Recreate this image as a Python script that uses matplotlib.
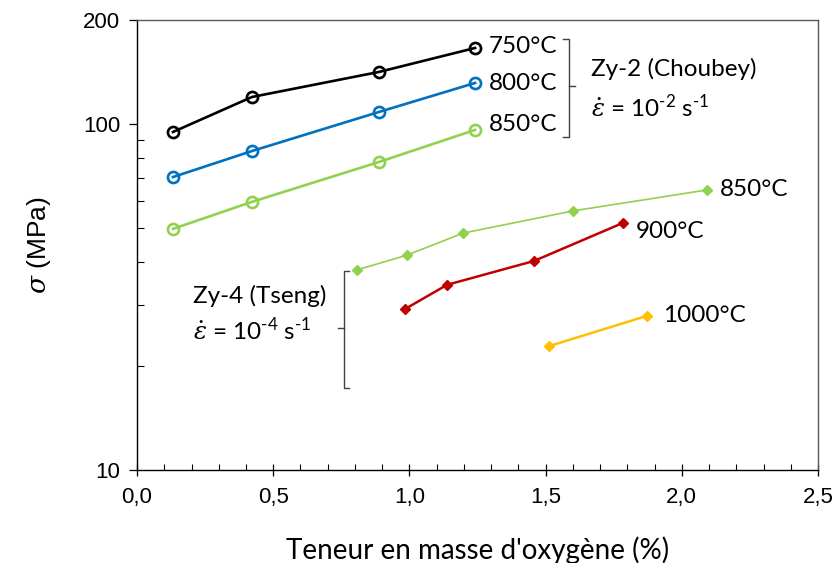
import matplotlib
matplotlib.use("Agg")
import matplotlib.pyplot as plt
from matplotlib.ticker import FixedLocator, NullFormatter, MultipleLocator, FuncFormatter

plt.rcParams['font.family'] = ['Lato', 'DejaVu Sans']
plt.rcParams['mathtext.fontset'] = 'custom'
plt.rcParams['mathtext.rm'] = 'Lato'
plt.rcParams['mathtext.it'] = 'DejaVu Serif:italic'

# Zy-2 (Choubey), strain rate 1e-2 s-1
x_choubey = [0.132, 0.422, 0.888, 1.241]
s_750 = [94.9, 119.8, 141.5, 166.0]
s_800 = [70.3, 83.6, 108.4, 131.5]
s_850c = [49.8, 59.6, 77.7, 96.2]

# Zy-4 (Tseng), strain rate 1e-4 s-1
x_t850 = [0.808, 0.991, 1.197, 1.600, 2.092]
s_t850 = [37.9, 41.8, 48.4, 56.1, 64.5]
x_t900 = [0.984, 1.138, 1.457, 1.784]
s_t900 = [29.2, 34.3, 40.2, 51.8]
x_t1000 = [1.512, 1.872]
s_t1000 = [22.8, 27.9]

y_ticks = [10, 100, 200]

fig = plt.figure(figsize=(8.33, 5.63), dpi=100)
ax = fig.add_axes([0.1645, 0.1652, 0.8175, 0.7993])

black, blue, green, red, orange = '#000000', '#0070C0', '#92D050', '#C00000', '#FFC000'

for ys, c in [(s_750, black), (s_800, blue), (s_850c, green)]:
    ax.plot(x_choubey, ys, color=c, lw=1.9, marker='o', ms=8, mfc='none', mec=c, mew=1.9)

ax.plot(x_t850, s_t850, color=green, lw=1.2, marker='D', ms=5.5, mfc=green, mec=green)
ax.plot(x_t900, s_t900, color=red, lw=1.8, marker='D', ms=5.5, mfc=red, mec=red)
ax.plot(x_t1000, s_t1000, color=orange, lw=1.8, marker='D', ms=5.5, mfc=orange, mec=orange)

ax.set_yscale('log')
ax.set_xlim(0, 2.5)
ax.set_ylim(10, 200)
ax.yaxis.set_major_locator(FixedLocator(y_ticks))
ax.yaxis.set_major_formatter(FuncFormatter(lambda v, p: f"{int(v)}"))
ax.yaxis.set_minor_locator(FixedLocator([20, 30, 40, 50, 60, 70, 80, 90]))
ax.yaxis.set_minor_formatter(NullFormatter())
ax.xaxis.set_major_locator(MultipleLocator(0.5))
ax.xaxis.set_minor_locator(MultipleLocator(0.1))
ax.xaxis.set_major_formatter(FuncFormatter(lambda v, p: f"{v:.1f}".replace('.', ',')))

for sp in ax.spines.values():
    sp.set_color('#595959')
    sp.set_linewidth(1.0)
ax.spines['left'].set_color('#000000')
ax.spines['bottom'].set_color('#000000')

ax.tick_params(axis='x', which='major', direction='inout', length=9, width=0.9, labelsize=16, pad=8)
ax.tick_params(axis='x', which='minor', direction='in', length=4, width=0.8)
ax.tick_params(axis='y', which='major', direction='out', length=6, width=0.9, labelsize=16, pad=6)
ax.tick_params(axis='y', which='minor', direction='in', length=5, width=0.8)
for lab in ax.get_xticklabels() + ax.get_yticklabels():
    lab.set_fontfamily(['Liberation Sans', 'DejaVu Sans'])

ax.set_xlabel("Teneur en masse d'oxygène (%)", fontsize=20, labelpad=20)
ax.set_ylabel(r"$\sigma$ (MPa)", fontsize=19, family=['Liberation Sans', 'DejaVu Sans'], labelpad=22)

# Series labels
fs = 17.5
ax.text(1.29, 168, "750°C", fontsize=fs, va='center', ha='left')
ax.text(1.29, 131, "800°C", fontsize=fs, va='center', ha='left')
ax.text(1.29, 100, "850°C", fontsize=fs, va='center', ha='left')
ax.text(2.14, 64.5, "850°C", fontsize=fs, va='center', ha='left')
ax.text(1.83, 49.0, "900°C", fontsize=fs, va='center', ha='left')
ax.text(1.93, 28.0, "1000°C", fontsize=fs, va='center', ha='left')

# Group annotations
ax.text(1.665, 144, "Zy-2 (Choubey)", fontsize=fs, va='center', ha='left')
ax.text(1.665, 112, r"$\dot{\varepsilon}$ = 10$^{\text{-2}}$ s$^{\text{-1}}$", fontsize=fs, va='center', ha='left')
ax.text(0.205, 31.8, "Zy-4 (Tseng)", fontsize=fs, va='center', ha='left')
ax.text(0.205, 25.3, r"$\dot{\varepsilon}$ = 10$^{\text{-4}}$ s$^{\text{-1}}$", fontsize=fs, va='center', ha='left')

# Brackets
bc = '#404040'
bx1, bx1t = 1.586, 1.565
ax.plot([bx1t, bx1, bx1, bx1t], [176, 176, 91.5, 91.5], color=bc, lw=1.0, solid_joinstyle='miter')
ax.plot([bx1, bx1 + 0.022], [128.5, 128.5], color=bc, lw=1.0)
bx2, bx2t = 0.76, 0.78
ax.plot([bx2t, bx2, bx2, bx2t], [37.5, 37.5, 17.3, 17.3], color=bc, lw=1.0)
ax.plot([bx2, bx2 - 0.022], [25.7, 25.7], color=bc, lw=1.0)

fig.savefig("out.png", dpi=100)
